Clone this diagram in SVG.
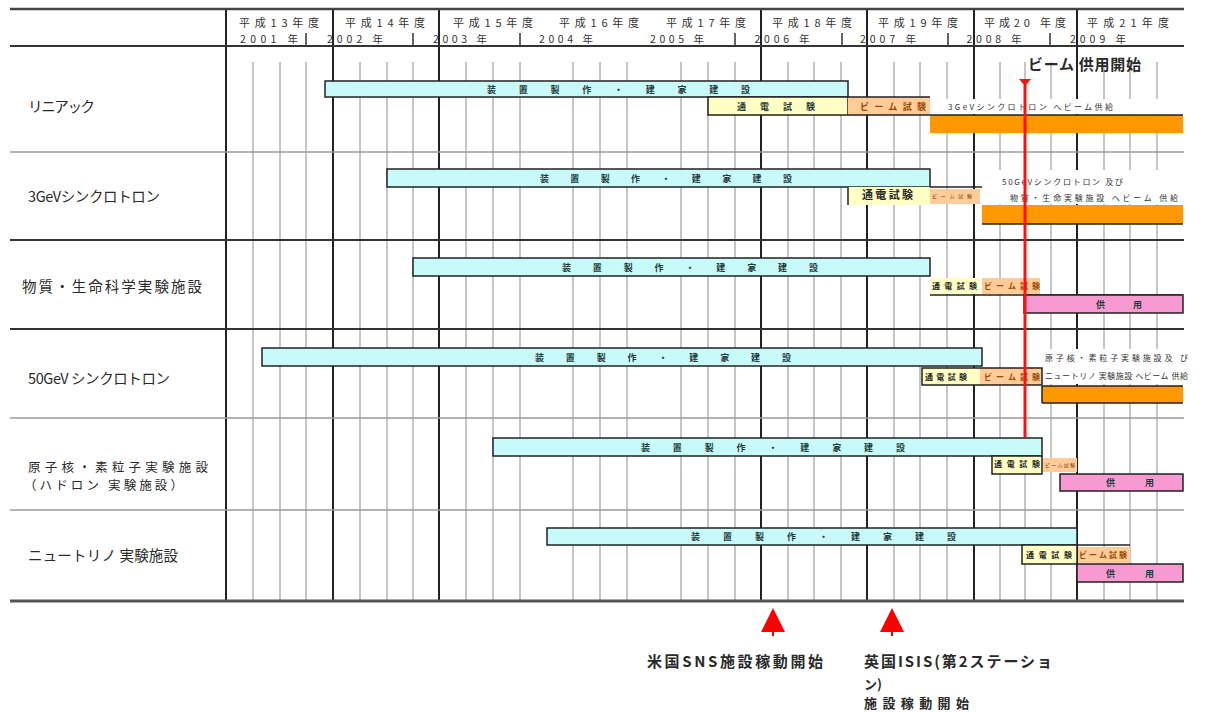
<svg xmlns="http://www.w3.org/2000/svg" width="1208" height="713" viewBox="0 0 1208 713">
<style>
.thin{stroke:#8c8c8c;stroke-width:1}
.thick{stroke:#222;stroke-width:2}
.tick{stroke:#333;stroke-width:1.5}
.rowg{stroke:#9a9a9a;stroke-width:1.5}
.rowd{stroke:#333;stroke-width:2}
.cyan{fill:#c8fafa;stroke:#222;stroke-width:1.5}
.yel{fill:#ffffc4;stroke:#222;stroke-width:1.5}
.yelf{fill:#ffffc4}
.peach{fill:#ffcc99}
.orange{fill:#ff9900}
.pink{fill:#f79ad2;stroke:#222;stroke-width:1.5}
.bl{stroke:#222;stroke-width:1.5;fill:none}
.wbg{fill:#fff}
.hdr{font-family:"Noto Sans CJK JP","Liberation Sans",sans-serif;font-size:11px;fill:#333;text-anchor:middle}
.cal{font-family:"Noto Sans CJK JP","Liberation Sans",sans-serif;font-size:10.5px;fill:#333;text-anchor:middle}
.lbl{font-family:"Noto Sans CJK JP","Liberation Sans",sans-serif;font-size:14.5px;fill:#2a2a2a}
.bar{font-family:"Noto Sans CJK JP",sans-serif;font-size:9px;font-weight:bold;fill:#1f3a3a}
.sm{font-family:"Noto Sans CJK JP","Liberation Sans",sans-serif;font-size:8px;fill:#333}
.bm{font-family:"Noto Sans CJK JP",sans-serif;font-size:9px;font-weight:bold;fill:#9a4a00}
.big{font-family:"Noto Sans CJK JP","Liberation Sans",sans-serif;font-size:15px;fill:#2a2a2a;font-weight:bold}
</style>

<g id="grid">
  <g id="quarter-lines">
    <line class="thin" x1="253" y1="62" x2="253" y2="601"/>
    <line class="thin" x1="280" y1="62" x2="280" y2="601"/>
    <line class="thin" x1="306" y1="62" x2="306" y2="601"/>
    <line class="thin" x1="360" y1="62" x2="360" y2="601"/>
    <line class="thin" x1="387" y1="62" x2="387" y2="601"/>
    <line class="thin" x1="413" y1="62" x2="413" y2="601"/>
    <line class="thin" x1="466" y1="62" x2="466" y2="601"/>
    <line class="thin" x1="493" y1="62" x2="493" y2="601"/>
    <line class="thin" x1="520" y1="62" x2="520" y2="601"/>
    <line class="thin" x1="573" y1="62" x2="573" y2="601"/>
    <line class="thin" x1="600" y1="62" x2="600" y2="601"/>
    <line class="thin" x1="627" y1="62" x2="627" y2="601"/>
    <line class="thin" x1="681" y1="62" x2="681" y2="601"/>
    <line class="thin" x1="708" y1="62" x2="708" y2="601"/>
    <line class="thin" x1="735" y1="62" x2="735" y2="601"/>
    <line class="thin" x1="788" y1="62" x2="788" y2="601"/>
    <line class="thin" x1="814" y1="62" x2="814" y2="601"/>
    <line class="thin" x1="841" y1="62" x2="841" y2="601"/>
    <line class="thin" x1="894" y1="62" x2="894" y2="601"/>
    <line class="thin" x1="920" y1="62" x2="920" y2="601"/>
    <line class="thin" x1="947" y1="62" x2="947" y2="601"/>
    <line class="thin" x1="1000" y1="62" x2="1000" y2="601"/>
    <line class="thin" x1="1025" y1="62" x2="1025" y2="601"/>
    <line class="thin" x1="1051" y1="62" x2="1051" y2="601"/>
    <line class="thin" x1="1104" y1="62" x2="1104" y2="601"/>
    <line class="thin" x1="1130" y1="62" x2="1130" y2="601"/>
    <line class="thin" x1="1157" y1="62" x2="1157" y2="601"/>
  </g>
  <g id="year-lines">
    <line class="thick" x1="226" y1="9" x2="226" y2="601"/>
    <line class="thick" x1="333" y1="9" x2="333" y2="601"/>
    <line class="thick" x1="439" y1="9" x2="439" y2="601"/>
    <line class="thick" x1="761" y1="9" x2="761" y2="601"/>
    <line class="thick" x1="867" y1="9" x2="867" y2="601"/>
    <line class="thick" x1="974" y1="9" x2="974" y2="601"/>
    <line class="thick" x1="1077" y1="9" x2="1077" y2="601"/>
  </g>
  <g id="cal-ticks">
    <line class="tick" x1="306" y1="33" x2="306" y2="46"/>
    <line class="tick" x1="413" y1="33" x2="413" y2="46"/>
    <line class="tick" x1="520" y1="33" x2="520" y2="46"/>
    <line class="tick" x1="735" y1="33" x2="735" y2="46"/>
    <line class="tick" x1="842" y1="33" x2="842" y2="46"/>
    <line class="tick" x1="948" y1="33" x2="948" y2="46"/>
    <line class="tick" x1="1050" y1="33" x2="1050" y2="46"/>
  </g>
  <g id="row-lines">
    <line x1="10" y1="9" x2="1184" y2="9" stroke="#444" stroke-width="2.5"/>
    <line class="rowd" x1="10" y1="46" x2="1184" y2="46"/>
    <line class="rowg" x1="10" y1="152" x2="1184" y2="152"/>
    <line class="rowd" x1="10" y1="240" x2="1184" y2="240"/>
    <line class="rowd" x1="10" y1="329" x2="1184" y2="329"/>
    <line class="rowg" x1="10" y1="418" x2="1184" y2="418"/>
    <line class="rowg" x1="10" y1="510" x2="1184" y2="510"/>
    <line x1="10" y1="601" x2="1184" y2="601" stroke="#555" stroke-width="3"/>
  </g>
</g>

<g id="header">
  <text class="hdr" x="279" y="27" textLength="80">平成13年度</text>
  <text class="hdr" x="385" y="27" textLength="80">平成14年度</text>
  <text class="hdr" x="493" y="27" textLength="80">平成15年度</text>
  <text class="hdr" x="599" y="27" textLength="80">平成16年度</text>
  <text class="hdr" x="706" y="27" textLength="80">平成17年度</text>
  <text class="hdr" x="812" y="27" textLength="80">平成18年度</text>
  <text class="hdr" x="918" y="27" textLength="80">平成19年度</text>
  <text class="hdr" x="1025" y="27" textLength="82">平成20 年度</text>
  <text class="hdr" x="1128" y="27" textLength="82">平成21年度</text>
  <text class="cal" x="269" y="43" textLength="58">2001 年</text>
  <text class="cal" x="355" y="43" textLength="56">2002 年</text>
  <text class="cal" x="460" y="43" textLength="54">2003 年</text>
  <text class="cal" x="566" y="43" textLength="54">2004 年</text>
  <text class="cal" x="677" y="43" textLength="54">2005 年</text>
  <text class="cal" x="782" y="43" textLength="55">2006 年</text>
  <text class="cal" x="888" y="43" textLength="56">2007 年</text>
  <text class="cal" x="994" y="43" textLength="55">2008 年</text>
  <text class="cal" x="1098" y="43" textLength="56">2009 年</text>
</g>

<g id="row-linac">
  <text class="lbl" x="28" y="112" textLength="67">リニアック</text>
  <rect class="cyan" x="325" y="81" width="523" height="16"/>
  <text class="bar" x="487" y="92.5" textLength="263">装 置 製 作 ・ 建 家 建 設</text>
  <rect class="yel" x="708" y="97" width="140" height="18"/>
  <text class="bar" x="737" y="109.5" textLength="78">通 電 試 験</text>
  <rect class="peach" x="848" y="97" width="82" height="18"/>
  <path class="bl" d="M848 97 H930 M848 115 H930"/>
  <text class="bm" x="860" y="109.5" textLength="66">ビーム試験</text>
  <rect class="wbg" x="931" y="99" width="252" height="15"/>
  <text class="sm" x="948" y="110" textLength="165">3GeVシンクロトロン へビーム供給</text>
  <rect class="orange" x="930" y="115" width="253" height="18"/>
  <line class="bl" x1="930" y1="115" x2="1183" y2="115"/>
</g>

<g id="row-3gev">
  <text class="lbl" x="28" y="202" textLength="132">3GeVシンクロトロン</text>
  <rect class="cyan" x="387" y="169" width="543" height="18"/>
  <text class="bar" x="540" y="181.5" textLength="252">装 置 製 作 ・ 建 家 建 設</text>
  <line class="bl" x1="930" y1="187" x2="982" y2="187"/>
  <rect class="yelf" x="848" y="187" width="82" height="18"/>
  <line class="bl" x1="848" y1="187" x2="848" y2="205"/>
  <text x="862" y="199" textLength="51" font-family="Noto Sans CJK JP, sans-serif" font-size="11" font-weight="bold" fill="#2a2a2a">通電試験</text>
  <rect class="peach" x="930" y="189" width="50" height="15"/>
  <text x="932" y="198" textLength="40" font-family="Noto Sans CJK JP, sans-serif" font-size="5" fill="#7a3a00">ビーム試験</text>
  <rect class="wbg" x="983" y="170" width="200" height="34"/>
  <text class="sm" x="1002" y="185" textLength="121">50GeVシンクロトロン 及び</text>
  <text class="sm" x="1010" y="201" textLength="168">物質・生命実験施設 へビーム 供給</text>
  <rect class="orange" x="982" y="205" width="201" height="19"/>
  <line class="bl" x1="982" y1="224" x2="1183" y2="224"/>
</g>

<g id="row-mlf">
  <text class="lbl" x="22" y="292" textLength="180">物質・生命科学実験施設</text>
  <rect class="cyan" x="413" y="258" width="517" height="18"/>
  <text class="bar" x="562" y="270.5" textLength="256">装 置 製 作 ・ 建 家 建 設</text>
  <rect class="yelf" x="930" y="278" width="50" height="16"/>
  <text x="932" y="289" textLength="45" font-family="Noto Sans CJK JP, sans-serif" font-size="8" font-weight="bold" fill="#2a2a2a">通電試験</text>
  <rect class="peach" x="982" y="278" width="58" height="16"/>
  <text class="bm" x="984" y="289" textLength="56" style="font-size:8px">ビーム試験</text>
  <line class="bl" x1="930" y1="295" x2="1183" y2="295"/>
  <rect class="pink" x="1024" y="295" width="159" height="18"/>
  <text class="bar" x="1096" y="307.5" textLength="46" fill="#3a1a2a">供 用</text>
</g>

<g id="row-50gev">
  <text class="lbl" x="28" y="384" textLength="142">50GeV シンクロトロン</text>
  <rect class="cyan" x="262" y="348" width="720" height="18"/>
  <text class="bar" x="535" y="360.5" textLength="256">装 置 製 作 ・ 建 家 建 設</text>
  <rect class="yelf" x="922" y="368" width="58" height="17"/>
  <rect class="peach" x="980" y="368" width="62" height="17"/>
  <rect class="bl" x="922" y="368" width="120" height="17"/>
  <text x="925" y="380" textLength="42" font-family="Noto Sans CJK JP, sans-serif" font-size="8" font-weight="bold" fill="#2a2a2a">通電試験</text>
  <text class="bm" x="984" y="380" textLength="56" style="font-size:8px">ビーム試験</text>
  <rect class="wbg" x="1043" y="349" width="140" height="35"/>
  <text class="sm" x="1045" y="361" textLength="143">原子核・素粒子実験施設及 び</text>
  <text class="sm" x="1045" y="379" textLength="143">ニュートリノ 実験施設 へビーム 供給</text>
  <rect class="orange" x="1042" y="386" width="141" height="17"/>
  <path class="bl" d="M1042 386 H1183 M1042 386 V403 M1042 403 H1183"/>
</g>

<g id="row-hadron">
  <text class="lbl" x="28" y="471.5" textLength="180" style="font-size:12.5px">原子核・素粒子実験施設</text>
  <text class="lbl" x="24" y="490" textLength="159" style="font-size:12.5px">（ハドロン 実験施設）</text>
  <rect class="cyan" x="493" y="438" width="549" height="18"/>
  <text class="bar" x="641" y="450.5" textLength="264">装 置 製 作 ・ 建 家 建 設</text>
  <rect class="yel" x="992" y="456" width="50" height="18"/>
  <text x="994" y="467" textLength="46" font-family="Noto Sans CJK JP, sans-serif" font-size="8" font-weight="bold" fill="#2a2a2a">通電試験</text>
  <rect class="peach" x="1043" y="458" width="34" height="14"/>
  <text x="1045" y="467" textLength="30" font-family="Noto Sans CJK JP, sans-serif" font-size="5" fill="#7a3a00">ビーム試験</text>
  <rect class="pink" x="1060" y="474" width="123" height="17"/>
  <text class="bar" x="1106" y="486" textLength="48" fill="#3a1a2a">供 用</text>
</g>

<g id="row-neutrino">
  <text class="lbl" x="28" y="561" textLength="150">ニュートリノ 実験施設</text>
  <rect class="cyan" x="547" y="528" width="530" height="17"/>
  <text class="bar" x="691" y="540" textLength="265">装 置 製 作 ・ 建 家 建 設</text>
  <line class="bl" x1="1077" y1="545" x2="1130" y2="545"/>
  <rect class="yel" x="1022" y="545" width="55" height="19"/>
  <text x="1026" y="558" textLength="46" font-family="Noto Sans CJK JP, sans-serif" font-size="8" font-weight="bold" fill="#2a2a2a">通電試験</text>
  <rect class="peach" x="1078" y="547" width="52" height="16"/>
  <text class="bm" x="1079" y="558" textLength="48" style="font-size:8px">ビーム試験</text>
  <rect class="pink" x="1077" y="564" width="106" height="18"/>
  <text class="bar" x="1106" y="576.5" textLength="48" fill="#3a1a2a">供 用</text>
</g>

<g id="connectors">
  <line x1="1025" y1="82" x2="1025" y2="437" stroke="#ff1010" stroke-width="3"/>
  <polygon points="1019,79 1031,79 1025,86" fill="#ff1010"/>
  <polygon points="773,608 761,632 785,632" fill="#ff0000"/>
  <line x1="773" y1="632" x2="773" y2="636" stroke="#ff0000" stroke-width="2"/>
  <polygon points="892,608 880,632 904,632" fill="#ff0000"/>
  <line x1="892" y1="632" x2="892" y2="636" stroke="#ff0000" stroke-width="2"/>
</g>

<g id="notes">
  <text class="big" x="1028" y="70" textLength="113">ビーム 供用開始</text>
  <text class="big" x="647" y="667" textLength="176">米国SNS施設稼動開始</text>
  <text class="big" x="864" y="667" textLength="188">英国ISIS(第2ステーショ</text>
  <text class="big" x="864" y="689" style="font-size:13px">ン)</text>
  <text class="big" x="864" y="708" textLength="105" style="font-size:13px">施設稼動開始</text>
</g>
</svg>
